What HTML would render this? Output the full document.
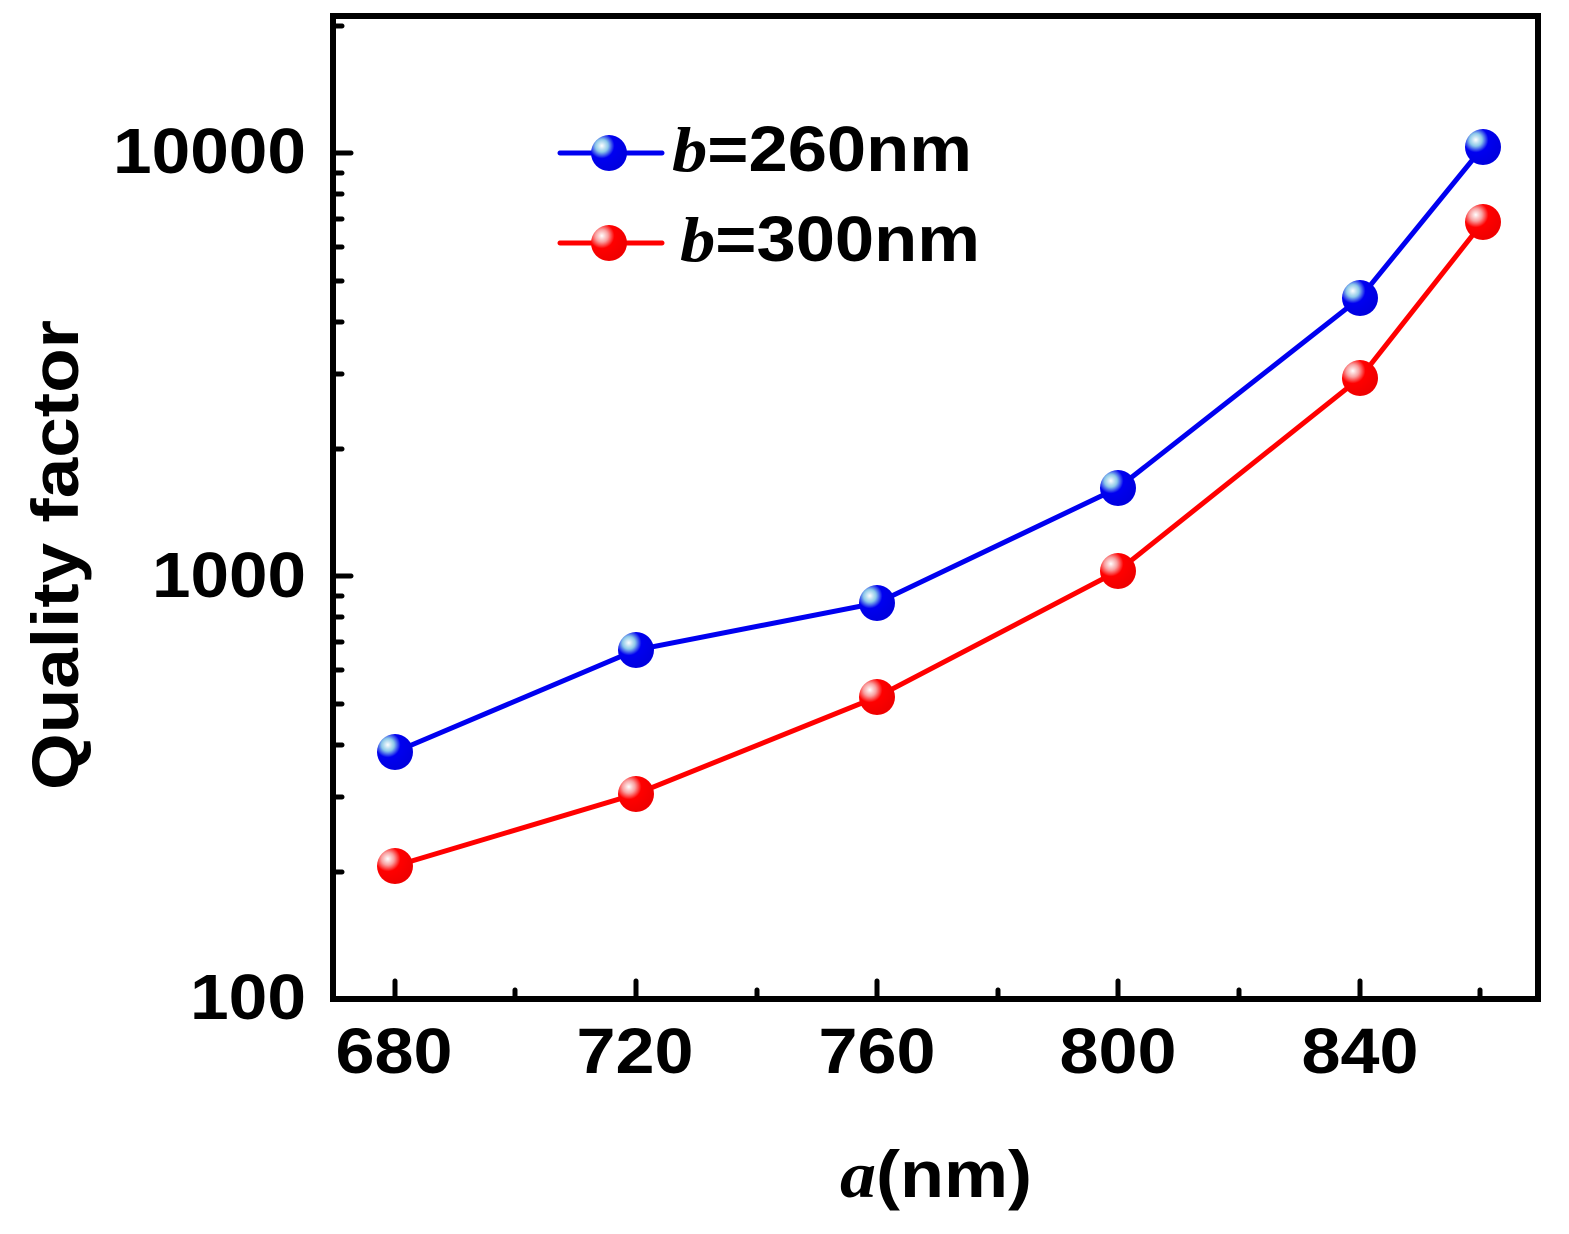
<!DOCTYPE html>
<html><head><style>body{margin:0;background:#fff}</style></head><body>
<svg width="1569" height="1229" xmlns="http://www.w3.org/2000/svg" font-family="Liberation Sans, Arial, sans-serif" font-weight="bold">
<defs>
<radialGradient id="gb" cx="0.3" cy="0.3" r="0.7"><stop offset="0" stop-color="#fff"/><stop offset="0.25" stop-color="#8cc8e8"/><stop offset="0.5" stop-color="#0000f0"/><stop offset="1" stop-color="#0000e0"/></radialGradient>
<radialGradient id="gr" cx="0.3" cy="0.3" r="0.7"><stop offset="0" stop-color="#fff"/><stop offset="0.25" stop-color="#f8a0a0"/><stop offset="0.5" stop-color="#ff0000"/><stop offset="1" stop-color="#f00000"/></radialGradient>
</defs>
<g stroke="#000" stroke-width="5" stroke-linecap="round">
<rect x="333" y="16" width="1205" height="983" fill="none" stroke-width="6"/>
<line x1="395" y1="999" x2="395" y2="981"/><line x1="636" y1="999" x2="636" y2="981"/><line x1="877" y1="999" x2="877" y2="981"/><line x1="1118" y1="999" x2="1118" y2="981"/><line x1="1360" y1="999" x2="1360" y2="981"/>
<line x1="515" y1="999" x2="515" y2="990"/><line x1="757" y1="999" x2="757" y2="990"/><line x1="998" y1="999" x2="998" y2="990"/><line x1="1239" y1="999" x2="1239" y2="990"/><line x1="1480" y1="999" x2="1480" y2="990"/>
<line x1="333" y1="576" x2="351" y2="576"/><line x1="333" y1="153" x2="351" y2="153"/>
<line x1="333" y1="872" x2="342" y2="872"/><line x1="333" y1="797" x2="342" y2="797"/><line x1="333" y1="745" x2="342" y2="745"/><line x1="333" y1="704" x2="342" y2="704"/><line x1="333" y1="670" x2="342" y2="670"/><line x1="333" y1="642" x2="342" y2="642"/><line x1="333" y1="617" x2="342" y2="617"/><line x1="333" y1="596" x2="342" y2="596"/>
<line x1="333" y1="449" x2="342" y2="449"/><line x1="333" y1="374" x2="342" y2="374"/><line x1="333" y1="322" x2="342" y2="322"/><line x1="333" y1="281" x2="342" y2="281"/><line x1="333" y1="247" x2="342" y2="247"/><line x1="333" y1="219" x2="342" y2="219"/><line x1="333" y1="194" x2="342" y2="194"/><line x1="333" y1="173" x2="342" y2="173"/>
<line x1="333" y1="26" x2="342" y2="26"/>
</g>
<polyline points="395,752 636,650 877,603 1118,488 1360,298 1483,147" fill="none" stroke="#0000f0" stroke-width="5"/>
<polyline points="395,866 636,794 877,697 1118,571 1360,378 1483,222" fill="none" stroke="#ff0000" stroke-width="5"/>
<g fill="url(#gb)">
<circle cx="395" cy="752" r="18"/><circle cx="636" cy="650" r="18"/><circle cx="877" cy="603" r="18"/><circle cx="1118" cy="488" r="18"/><circle cx="1360" cy="298" r="18"/><circle cx="1483" cy="147" r="18"/>
</g>
<g fill="url(#gr)">
<circle cx="395" cy="866" r="18"/><circle cx="636" cy="794" r="18"/><circle cx="877" cy="697" r="18"/><circle cx="1118" cy="571" r="18"/><circle cx="1360" cy="378" r="18"/><circle cx="1483" cy="222" r="18"/>
</g>
<line x1="560" y1="153" x2="662" y2="153" stroke="#0000f0" stroke-width="5" stroke-linecap="round"/>
<circle cx="609" cy="153" r="18" fill="url(#gb)"/>
<line x1="560" y1="243" x2="662" y2="243" stroke="#ff0000" stroke-width="5" stroke-linecap="round"/>
<circle cx="609" cy="243" r="18" fill="url(#gr)"/>
<text x="672" y="171" font-size="64" textLength="300" lengthAdjust="spacingAndGlyphs"><tspan font-family="Liberation Serif, serif" font-style="italic">b</tspan>=260nm</text>
<text x="680" y="261" font-size="64" textLength="300" lengthAdjust="spacingAndGlyphs"><tspan font-family="Liberation Serif, serif" font-style="italic">b</tspan>=300nm</text>
<g font-size="64" text-anchor="end" lengthAdjust="spacingAndGlyphs">
<text x="306" y="173" textLength="193" lengthAdjust="spacingAndGlyphs">10000</text>
<text x="306" y="597" textLength="154" lengthAdjust="spacingAndGlyphs">1000</text>
<text x="306" y="1019" textLength="116" lengthAdjust="spacingAndGlyphs">100</text>
</g>
<g font-size="64" text-anchor="middle">
<text x="394" y="1073" textLength="117" lengthAdjust="spacingAndGlyphs">680</text>
<text x="635" y="1073" textLength="117" lengthAdjust="spacingAndGlyphs">720</text>
<text x="877" y="1073" textLength="117" lengthAdjust="spacingAndGlyphs">760</text>
<text x="1118" y="1073" textLength="117" lengthAdjust="spacingAndGlyphs">800</text>
<text x="1360" y="1073" textLength="117" lengthAdjust="spacingAndGlyphs">840</text>
</g>
<text transform="translate(78,555) rotate(-90)" font-size="66" text-anchor="middle" textLength="470" lengthAdjust="spacingAndGlyphs">Quality factor</text>
<text x="936" y="1197" font-size="66" text-anchor="middle" textLength="192" lengthAdjust="spacingAndGlyphs"><tspan font-family="Liberation Serif, serif" font-style="italic">a</tspan>(nm)</text>
</svg>
</body></html>
